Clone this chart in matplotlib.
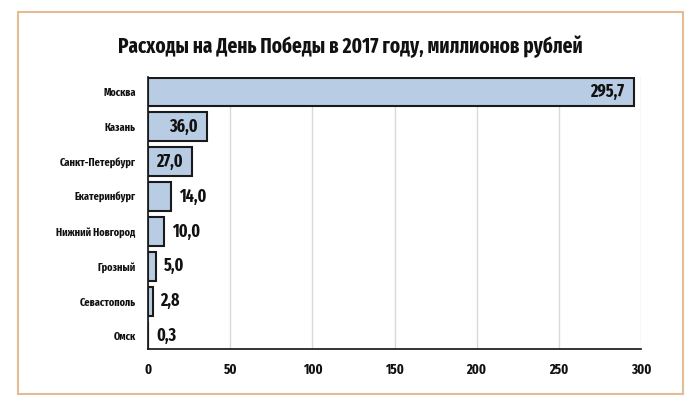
import matplotlib
matplotlib.use("Agg")
import matplotlib.pyplot as plt
from matplotlib.patches import Rectangle
from matplotlib import font_manager

cities = ["Москва", "Казань", "Санкт-Петербург", "Екатеринбург",
          "Нижний Новгород", "Грозный", "Севастополь", "Омск"]
values = [295.7, 36.0, 27.0, 14.0, 10.0, 5.0, 2.8, 0.3]
inside = [True, True, True, False, False, False, False, False]
xticks = [0, 50, 100, 150, 200, 250, 300]
title = "Расходы на День Победы в 2017 году, миллионов рублей"

names = {f.name for f in font_manager.fontManager.ttflist}
prefs = ["Fira Sans Extra Condensed", "Roboto Condensed", "Fira Sans Condensed", "PT Sans Narrow", "Oswald"]
chosen = [p for p in prefs if p in names][:1]
fam = chosen + ["DejaVu Sans"]
plt.rcParams['font.family'] = fam

fig = plt.figure(figsize=(6.98, 4.17), dpi=100)
fig.patch.set_facecolor("white")
fig.patches.append(Rectangle((18/698, 1-394/417), (683-18)/698, (394-12)/417,
                             transform=fig.transFigure, fill=False,
                             edgecolor="#E3BC94", linewidth=1.5))

ax = fig.add_axes([148/698, 1-349/417, (641-148)/698, (349-77)/417])
y = list(range(len(cities)))
ax.barh(y, values, height=0.83, color="#B8CCE4", edgecolor="#1a1a1a", linewidth=1.5, zorder=3)
ax.set_ylim(7.37, -0.43)
ax.set_xlim(0, 300)
ax.set_yticks(y)
ax.set_yticklabels(cities, fontsize=8, fontweight="bold", color="#111111")
ax.set_xticks(xticks)
ax.set_xticklabels([str(t) for t in xticks], fontsize=10, fontweight="bold", color="#111111")
ax.tick_params(axis="both", length=0)
ax.tick_params(axis="y", pad=9)
ax.tick_params(axis="x", pad=10)
ax.grid(axis="x", color="#d9d9d9", linewidth=1, zorder=0)
for s in ["top", "right"]:
    ax.spines[s].set_visible(False)
ax.spines["left"].set_color("#111111")
ax.spines["bottom"].set_color("#111111")
ax.spines["left"].set_linewidth(1.2)
ax.spines["bottom"].set_linewidth(1.2)

for yi, v, ins in zip(y, values, inside):
    lbl = f"{v:.1f}".replace(".", ",")
    if ins:
        ax.annotate(lbl, (v, yi), xytext=(-7, 0), textcoords="offset points",
                    ha="right", va="center", fontsize=12.5, fontweight="bold", color="#111111", zorder=4)
    else:
        ax.annotate(lbl, (v, yi), xytext=(5.5, 0), textcoords="offset points",
                    ha="left", va="center", fontsize=12.5, fontweight="bold", color="#111111", zorder=4)

fig.text(350/698, 1-47/417, title, ha="center", va="center", fontsize=15, fontweight="bold", color="#111111")

fig.savefig("out.png", dpi=100)
